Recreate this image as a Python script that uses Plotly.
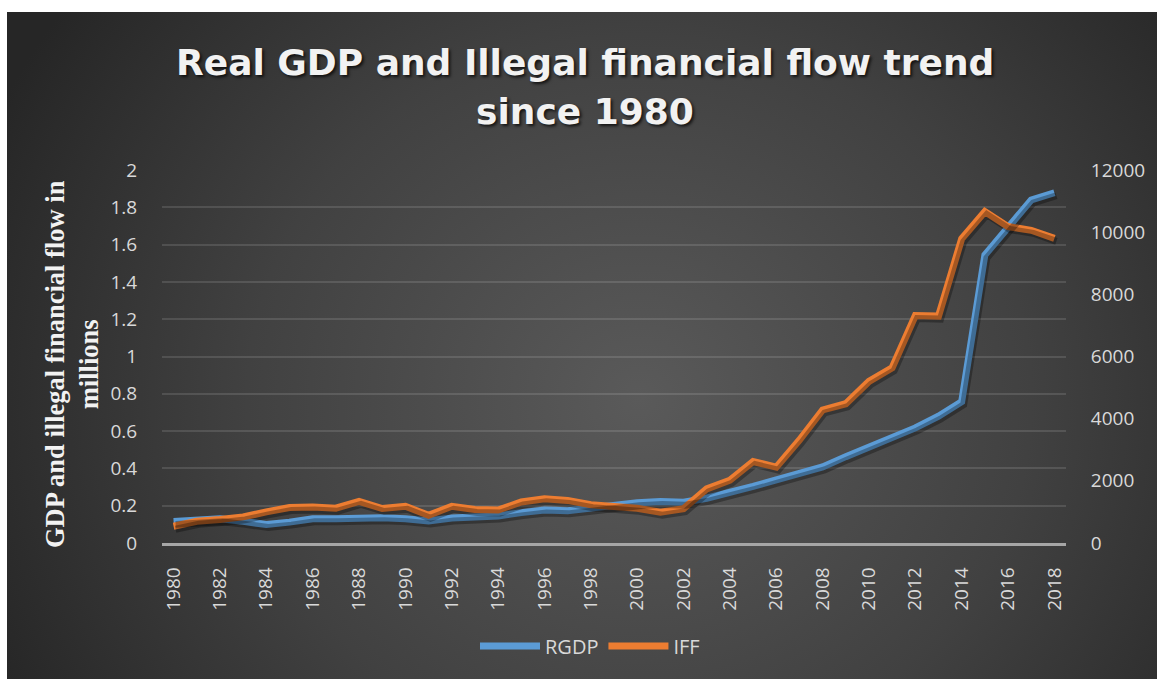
import base64
import plotly.graph_objects as go

# Annual series, 1980-2018
years = list(range(1980, 2019))
rgdp = [0.116, 0.121, 0.13, 0.116, 0.099, 0.112, 0.13, 0.13, 0.135, 0.136,
        0.13, 0.118, 0.134, 0.137, 0.145, 0.163, 0.177, 0.173, 0.189, 0.2,
        0.216, 0.222, 0.219, 0.24, 0.268, 0.303, 0.338, 0.372, 0.408, 0.463,
        0.516, 0.562, 0.617, 0.68, 0.758, 1.544, 1.696, 1.839, 1.878]
iff = [540, 700, 755, 840, 1000, 1140, 1160, 1120, 1340, 1110,
       1180, 890, 1180, 1080, 1060, 1320, 1420, 1370, 1230, 1180,
       1120, 990, 1105, 1740, 2020, 2620, 2440, 3310, 4280, 4480,
       5200, 5640, 7320, 7300, 9790, 10660, 10180, 10060, 9800]

left_ticks = [0, 0.2, 0.4, 0.6, 0.8, 1, 1.2, 1.4, 1.6, 1.8, 2]
left_labels = ["0", "0.2", "0.4", "0.6", "0.8", "1", "1.2", "1.4", "1.6", "1.8", "2"]
right_ticks = [0, 2000, 4000, 6000, 8000, 10000, 12000]
right_labels = ["0", "2000", "4000", "6000", "8000", "10000", "12000"]
year_ticks = list(range(1980, 2019, 2))

title_lines = ["Real GDP and Illegal financial flow trend", "since 1980"]
y_title = "GDP and illegal financial flow in<br>millions"

BLUE = "#5b9bd5"
ORANGE = "#ed7d31"
TICK = "#d9d9d9"

W, H = 1157, 679
ML, MR, MT, MB = 162, 91, 170, 136
PW, PH = W - ML - MR, H - MT - MB


def px_x(p):
    return (p - ML) / PW


def px_y(p):
    return (H - MB - p) / PH


# dark radial backdrop for the chart area
svg = (
    '<svg xmlns="http://www.w3.org/2000/svg" width="1150" height="667" '
    'viewBox="0 0 1150 667" preserveAspectRatio="none">'
    '<defs><radialGradient id="g" cx="0.55" cy="0.58" r="0.62" '
    'gradientTransform="translate(0.55 0.58) scale(1 1.6) translate(-0.55 -0.58)">'
    '<stop offset="0" stop-color="#5a5a5a"/>'
    '<stop offset="0.55" stop-color="#414141"/>'
    '<stop offset="1" stop-color="#262626"/>'
    '</radialGradient></defs>'
    '<rect width="1150" height="667" fill="url(#g)"/></svg>'
)
bg_src = "data:image/svg+xml;base64," + base64.b64encode(svg.encode()).decode()

x_lo, x_hi = 1979.5, 2018.5
px_per_x = PW / (x_hi - x_lo)
dx = 2 / px_per_x            # shadow offset to the right
dy_l = 3 / PH * 2            # shadow offset downward, left scale
dy_r = 3 / PH * 12000        # shadow offset downward, right scale

fig = go.Figure()

# soft drop shadows under the lines
fig.add_trace(go.Scatter(x=years, y=rgdp, mode="lines", xaxis="x2", yaxis="y3",
                         line=dict(color="rgba(0,0,0,0.3)", width=7),
                         showlegend=False, hoverinfo="skip"))
fig.add_trace(go.Scatter(x=years, y=iff, mode="lines", xaxis="x2", yaxis="y4",
                         line=dict(color="rgba(0,0,0,0.3)", width=7),
                         showlegend=False, hoverinfo="skip"))

fig.add_trace(go.Scatter(x=years, y=rgdp, mode="lines", name="RGDP",
                         line=dict(color=BLUE, width=7), yaxis="y"))
fig.add_trace(go.Scatter(x=years, y=iff, mode="lines", name="IFF",
                         line=dict(color=ORANGE, width=7), yaxis="y2"))

tickfont = dict(family="Open Sans", size=19, color=TICK)
title_font = dict(family="DejaVu Sans", size=36, color="#f2f2f2",
                  weight="bold", shadow="2px 2px 3px rgba(0,0,0,0.7)")

fig.update_layout(
    width=W, height=H,
    margin=dict(l=ML, r=MR, t=MT, b=MB),
    paper_bgcolor="white",
    plot_bgcolor="rgba(0,0,0,0)",
    images=[dict(source=bg_src, xref="paper", yref="paper",
                 x=px_x(7), y=px_y(12),
                 sizex=(W - 7) / PW, sizey=(H - 12) / PH,
                 xanchor="left", yanchor="top", sizing="stretch",
                 layer="below")],
    xaxis=dict(range=[x_lo, x_hi], tickmode="array", tickvals=year_ticks,
               ticktext=[str(y) for y in year_ticks], tickangle=-90,
               tickfont=tickfont, showgrid=False, zeroline=False,
               showline=True, linecolor="#a6a6a6", linewidth=2.5,
               ticks="outside", ticklen=14, tickcolor="rgba(0,0,0,0)"),
    xaxis2=dict(range=[x_lo - dx, x_hi - dx], overlaying="x", visible=False),
    yaxis=dict(range=[0, 2], tickmode="array", tickvals=left_ticks,
               ticktext=left_labels, tickfont=tickfont,
               showgrid=True, gridcolor="rgba(255,255,255,0.12)", gridwidth=1.5,
               zeroline=False, showline=False,
               ticks="outside", ticklen=20, tickcolor="rgba(0,0,0,0)"),
    yaxis2=dict(range=[0, 12000], overlaying="y", side="right",
                tickmode="array", tickvals=right_ticks, ticktext=right_labels,
                tickfont=tickfont, showgrid=False, zeroline=False, showline=False,
                ticks="outside", ticklen=20, tickcolor="rgba(0,0,0,0)"),
    yaxis3=dict(range=[dy_l, 2 + dy_l], overlaying="y", visible=False),
    yaxis4=dict(range=[dy_r, 12000 + dy_r], overlaying="y", visible=False),
    legend=dict(orientation="h", x=590 / W, xref="container", xanchor="center",
                y=(H - 646) / H, yref="container", yanchor="middle",
                font=dict(family="Open Sans", size=20, color=TICK),
                bgcolor="rgba(0,0,0,0)", itemwidth=60, tracegroupgap=0),
    annotations=[
        dict(text=title_lines[0], xref="paper", yref="paper",
             x=px_x(585), y=px_y(62), xanchor="center", yanchor="middle",
             showarrow=False, font=title_font),
        dict(text=title_lines[1], xref="paper", yref="paper",
             x=px_x(585), y=px_y(112), xanchor="center", yanchor="middle",
             showarrow=False, font=title_font),
        dict(text="<b>" + y_title + "</b>", xref="paper", yref="paper",
             x=px_x(72), y=px_y(364),
             xanchor="center", yanchor="middle", textangle=-90,
             showarrow=False,
             font=dict(family="Liberation Serif", size=26.5, color="#f2f2f2")),
    ],
)

fig.write_html("out.html")
